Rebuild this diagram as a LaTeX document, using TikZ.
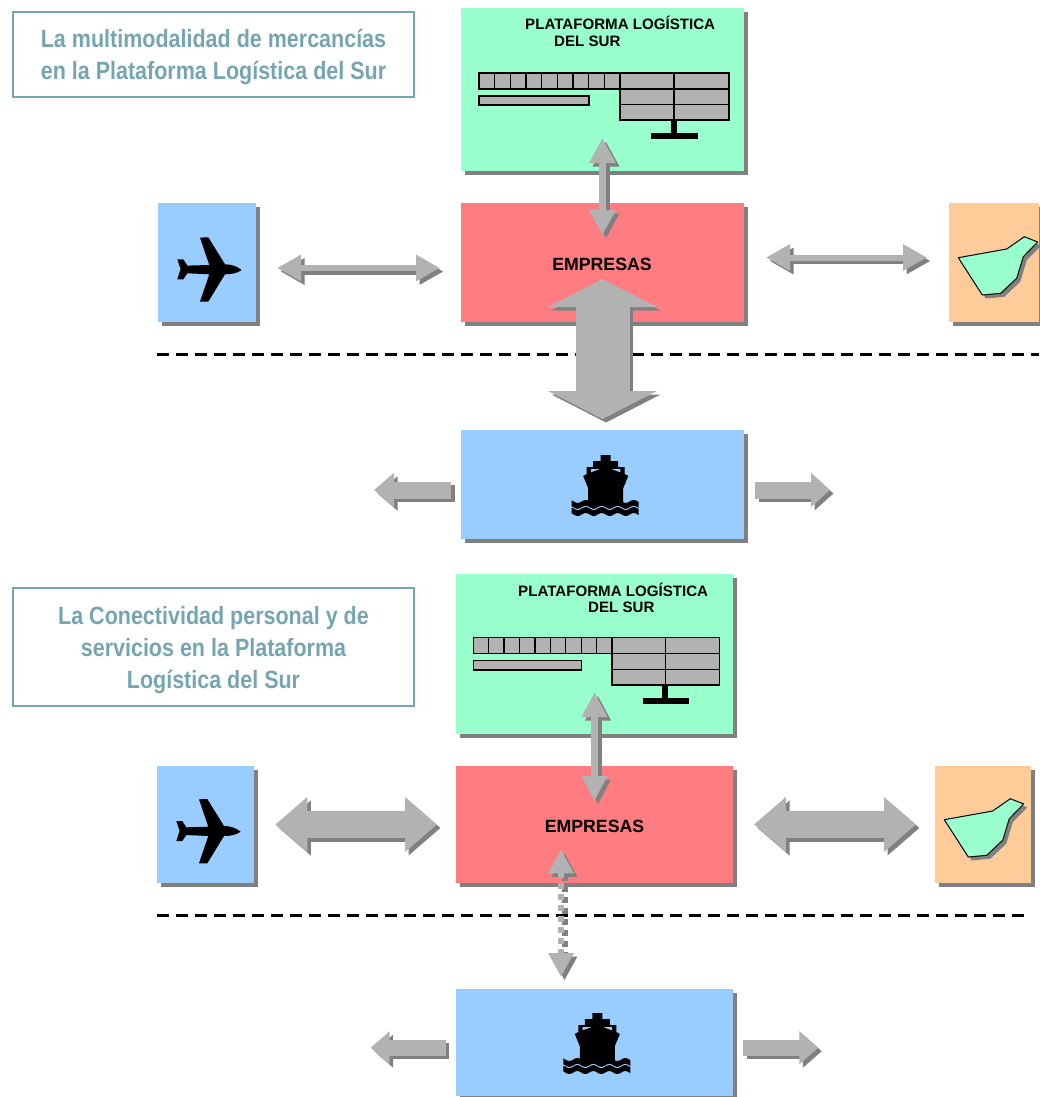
\documentclass[tikz,border=0pt]{standalone}
\usepackage{fontspec}
\setmainfont{Liberation Sans}
\newfontfamily\titlefont[FakeStretch=.86]{Liberation Sans Bold}
\usetikzlibrary{arrows.meta,shadows}
\definecolor{verde}{HTML}{99FFCC}
\definecolor{rojo}{HTML}{FF7C80}
\definecolor{azul}{HTML}{99CCFF}
\definecolor{naranja}{HTML}{FFCC99}
\definecolor{gris}{HTML}{B2B2B2}
\definecolor{sombra}{HTML}{808080}
\definecolor{titulo}{HTML}{76A5B2}
\newcommand{\flecha}[2]{
    \draw[#1,draw=sombra,transform canvas={shift={(3.5pt,-3.5pt)}}] #2;
    \draw[#1] #2;
}
\tikzset{
    box/.style n args={3}{fill=#1,minimum width=#2,minimum height=#3,inner sep=0pt,outer sep=0pt,
        drop shadow={shadow xshift=4pt,shadow yshift=-4pt,fill=sombra,opacity=1}},
    titlebox/.style 2 args={draw=titulo,line width=1.6pt,minimum width=#1,minimum height=#2,inner sep=0pt,outer sep=0pt},
    titletext/.style={align=center,text=titulo,inner sep=0pt,font=\titlefont\fontsize{25}{32}\selectfont},
    boxtext/.style={anchor=base west,inner sep=0pt,font=\bfseries\fontsize{15.1}{17}\selectfont},
    midtext/.style={anchor=base,inner sep=0pt,font=\bfseries\fontsize{17.7}{19}\selectfont},
    blockarrow/.style n args={3}{draw=gris,line width=#1,
        arrows={Triangle[width=#2,length=#3]-Triangle[width=#2,length=#3]}},
    onearrow/.style n args={3}{draw=gris,line width=#1,
        arrows={-Triangle[width=#2,length=#3]}},
    limit/.style={line width=3pt,dash pattern=on 11.5pt off 7.5pt},
    pics/avion/.style={code={
        \fill (32.3,.7) .. controls (28,-3) and (22,-5) .. (15.7,-5) -- (-1,-32) -- (-9.3,-31.7) -- (0,-4.3)
            -- (-22,-3.7) -- (-26,-10) -- (-32,-10) -- (-28.7,-.3) -- (-32,10) -- (-26,10) -- (-22,4) -- (0,5)
            -- (-9.3,32.3) -- (-1,32.3) -- (15.7,5) .. controls (22,5) and (28,4) .. (32.3,.7) -- cycle;
    }},
    pics/barco/.style={code={
        \fill (-5,-30) -- (5,-30) -- (5,-24) -- (12.5,-24) -- (12.5,-18) -- (19,-18) -- (19,-11) -- (22.5,-9)
            -- (17.5,3.3) -- (17.5,18) -- (-17.5,18) -- (-17.5,3.3) -- (-22.5,-9) -- (-19,-11) -- (-19,-18)
            -- (-12.5,-18) -- (-12.5,-24) -- (-5,-24) -- cycle;
        \fill[azul] (-14.7,-16) -- (-5.7,-16) -- (-14.7,-12.7) -- cycle;
        \fill[azul] (14.7,-16) -- (5.7,-16) -- (14.7,-12.7) -- cycle;
        \fill plot[domain=-34:33,samples=50] (\x,{16.5+1.5*cos(22.5*(\x+28))})
            -- plot[domain=33:-34,samples=50] (\x,{22.3+1.5*cos(22.5*(\x+28))}) -- cycle;
        \fill plot[domain=-34:33,samples=50] (\x,{23.6+1.5*cos(22.5*(\x+28))})
            -- plot[domain=33:-34,samples=50] (\x,{29.5+1.5*cos(22.5*(\x+28))}) -- cycle;
    }},
    pics/isla/.style={code={
        \fill[sombra,shift={(3.5,3.5)}] (0,0) -- (48.4,-8.7) -- (66,-21) -- (79.4,-15.7) -- (65,-1) -- (58.4,20.6)
            -- (42.4,35.6) -- (24,37.3) -- cycle;
        \draw[fill=verde,line width=1pt,line join=round] (0,0) -- (48.4,-8.7) -- (66,-21) -- (79.4,-15.7) -- (65,-1)
            -- (58.4,20.6) -- (42.4,35.6) -- (24,37.3) -- cycle;
    }},
    pics/pantalla/.style={code={
        \foreach \i in {0,...,8}
            \draw[fill=gris,line width=1.3pt] (\i*15.67,0) rectangle +(15.67,16);
        \foreach \i/\w in {141/54,195/55} {
            \draw[fill=gris,line width=1.3pt] (\i,0) rectangle +(\w,16);
            \draw[fill=gris,line width=1.3pt] (\i,16) rectangle +(\w,15.5);
            \draw[fill=gris,line width=1.3pt] (\i,31.5) rectangle +(\w,15.5);
        }
        \draw[fill=gris,line width=1.3pt] (0,23) rectangle (110,32);
        \fill (192,47) rectangle (198,61);
        \fill (172,60) rectangle (219,66);
    }}
}
\begin{document}
\begin{tikzpicture}[x=1pt,y=-1pt]
    \useasboundingbox (0,0) rectangle (1039,1097);

    \node[titlebox={401}{85}] (titulo1) at (213.5,54.5) {};
    \node[titletext] (titulotext1) at (213.5,57) {La multimodalidad de mercancías\\en la Plataforma Logística del Sur};
    \node[box={verde}{283}{163}] (plataforma1) at (602.5,89.5) {};
    \node[box={rojo}{283}{119}] (empresas1) at (602.5,262.5) {};
    \node[box={azul}{98}{119}] (avion1) at (207,262.5) {};
    \node[box={naranja}{90}{119}] (isla1) at (994,262.5) {};
    \node[box={azul}{283}{109}] (barco1) at (602.5,484.5) {};

    \node[boxtext] (plataformatext1) at (525,30) {PLATAFORMA LOGÍSTICA};
    \node[boxtext] (sur1) at (554,47) {DEL SUR};
    \node[midtext] (empresastext1) at (602,270) {EMPRESAS};
    \pic at (479,73) {pantalla};
    \pic at (209.3,269.3) {avion};
    \pic at (958.3,257.7) {isla};
    \pic at (605.7,485) {barco};

    \coordinate (limitA) at (157,354.8);
    \coordinate (limitB) at (1039,354.8);
    \draw[limit] (limitA) -- (limitB);

    \flecha{blockarrow={7pt}{25pt}{25pt},shorten <=-33pt,shorten >=-32pt}{(plataforma1.south) -- (empresas1.north)}
    \flecha{blockarrow={6pt}{25pt}{24pt},shorten <=21pt,shorten >=21pt}{([yshift=-5.5pt]avion1.east) -- ([yshift=-5.5pt]empresas1.west)}
    \flecha{blockarrow={6pt}{25pt}{24pt},shorten <=22pt,shorten >=22pt}{([yshift=5pt]empresas1.east) -- ([yshift=5pt]isla1.west)}
    \flecha{blockarrow={54pt}{108pt}{28pt},shorten <=-43pt,shorten >=11pt}{(empresas1.south) -- (barco1.north)}
    \coordinate (salidaA) at (374,490);
    \coordinate (salidaB) at (830,490);
    \flecha{onearrow={17pt}{33pt}{20pt},shorten <=10pt}{([yshift=-5.5pt]barco1.west) -- (salidaA)}
    \flecha{onearrow={17pt}{33pt}{19pt},shorten <=11pt}{([yshift=-5.5pt]barco1.east) -- (salidaB)}

    \node[titlebox={401}{118}] (titulo2) at (213.5,647) {};
    \node[titletext] (titulotext2) at (213.5,650.5) {La Conectividad personal y de\\servicios en la Plataforma\\Logística del Sur};
    \node[box={verde}{277}{160}] (plataforma2) at (594.5,654) {};
    \node[box={rojo}{277}{117}] (empresas2) at (594.5,824.5) {};
    \node[box={azul}{97}{117}] (avion2) at (205.5,824.5) {};
    \node[box={naranja}{96}{117}] (isla2) at (983,824.5) {};
    \node[box={azul}{277}{107}] (barco2) at (594.5,1042.5) {};

    \node[boxtext] (plataformatext2) at (518,596) {PLATAFORMA LOGÍSTICA};
    \node[boxtext] (sur2) at (588,612) {DEL SUR};
    \node[midtext] (empresastext2) at (594.5,832) {EMPRESAS};
    \pic[xscale=.984,yscale=1.006] at (473.3,637.7) {pantalla};
    \pic at (208.3,831) {avion};
    \pic at (944.3,819.7) {isla};
    \pic at (597.3,1043) {barco};

    \coordinate (limitC) at (157,915);
    \coordinate (limitD) at (1027,915);
    \draw[limit] (limitC) -- (limitD);

    \flecha{blockarrow={7pt}{24pt}{25pt},shorten <=-42pt,shorten >=-35pt}{(plataforma2.south) -- (empresas2.north)}
    \flecha{blockarrow={27pt}{53pt}{32pt},shorten <=21.3pt,shorten >=19pt}{(avion2.east) -- (empresas2.west)}
    \flecha{blockarrow={27pt}{53pt}{32pt},shorten <=21pt,shorten >=19pt}{(empresas2.east) -- (isla2.west)}
    \flecha{blockarrow={6pt}{24pt}{24pt},dash pattern=on 6pt off 5pt,shorten <=-33.7pt,shorten >=12pt}{([xshift=-33.5pt]empresas2.south) -- ([xshift=-33.5pt]barco2.north)}
    \coordinate (salidaC) at (370.7,1047.7);
    \coordinate (salidaD) at (818.3,1047.7);
    \flecha{onearrow={16pt}{32pt}{19pt},shorten <=10.3pt}{([yshift=-5.2pt]barco2.west) -- (salidaC)}
    \flecha{onearrow={16pt}{32pt}{19pt},shorten <=10.3pt}{([yshift=-5.2pt]barco2.east) -- (salidaD)}
\end{tikzpicture}
\end{document}
